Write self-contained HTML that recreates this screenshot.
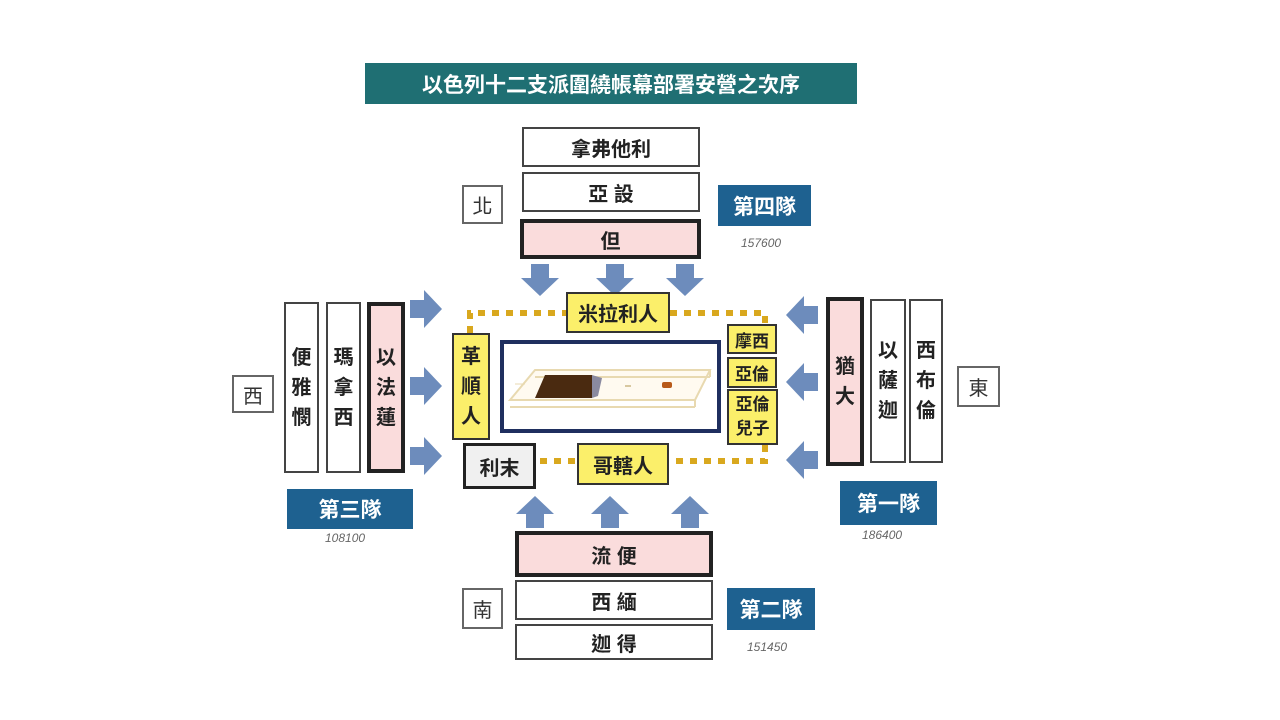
<!DOCTYPE html>
<html><head><meta charset="utf-8"><style>
body{margin:0;width:1280px;height:720px;background:#fff;position:relative;overflow:hidden;font-family:"Liberation Sans","Noto Sans CJK TC",sans-serif;}
.b{position:absolute;box-sizing:border-box;border:2px solid #444;background:#fff;display:flex;align-items:center;justify-content:center;font-weight:bold;font-size:20px;color:#222;}
.p{background:#fadcdc;border:4px solid #222;}
.v{flex-direction:column;line-height:30px;}
.y{background:#fbef6a;border:2px solid #333;}
.t{position:absolute;background:#1e6190;color:#fff;font-weight:bold;font-size:21px;display:flex;align-items:center;justify-content:center;}
.n{position:absolute;font-style:italic;color:#666;font-size:12px;}
.d{position:absolute;box-sizing:border-box;border:2px solid #666;background:#fff;font-size:20px;display:flex;align-items:center;justify-content:center;color:#333;}
</style></head><body>
<div style="position:absolute;left:365px;top:63px;width:492px;height:41px;background:#1f6f73;color:#fff;font-weight:bold;font-size:21px;display:flex;align-items:center;justify-content:center;">以色列十二支派圍繞帳幕部署安營之次序</div>

<svg width="1280" height="720" style="position:absolute;left:0;top:0">
<g fill="#6d8cbc">
<!-- down -->
<path d="M531 264h18v14h10l-19 18l-19-18h10z"/>
<path d="M606 264h18v14h10l-19 18l-19-18h10z"/>
<path d="M676 264h18v14h10l-19 18l-19-18h10z"/>
<!-- up -->
<path d="M526 528h18v-14h10l-19-18l-19 18h10z"/>
<path d="M601 528h18v-14h10l-19-18l-19 18h10z"/>
<path d="M681 528h18v-14h10l-19-18l-19 18h10z"/>
<!-- right -->
<path d="M410 309v18h14v10l18-19l-18-19v10z" transform="translate(0,-9)"/>
<path d="M410 386v18h14v10l18-19l-18-19v10z" transform="translate(0,-9)"/>
<path d="M410 456v18h14v10l18-19l-18-19v10z" transform="translate(0,-9)"/>
<!-- left -->
<path d="M818 306v18h-14v10l-18-19l18-19v10z"/>
<path d="M818 373v18h-14v10l-18-19l18-19v10z"/>
<path d="M818 451v18h-14v10l-18-19l18-19v10z"/>
</g>
<g stroke="#d9a81e" stroke-width="6" stroke-dasharray="7,7" fill="none">
<path d="M470 333V313H566"/>
<path d="M670 313H765V326"/>
<path d="M765 445V461H672"/>
<path d="M575 461H537"/>
</g>
<rect x="502" y="342" width="217" height="89" fill="#fff" stroke="#1f2f5f" stroke-width="4"/>
<g stroke="#e8d9b0" stroke-width="2" fill="none">
<path d="M535 370H710L695 400H510Z" fill="#fffaf0"/>
<path d="M535 377H710M510 407H695M695 400v7M710 370v7"/>
</g>
<path d="M515 384h10" stroke="#e8d9b0"/>
<polygon points="545,375 592,375 597,383 592,398 535,398" fill="#4a2a10"/>
<polygon points="592,375 602,378 598,396 592,398" fill="#8a8aa0"/>
<rect x="662" y="382" width="10" height="6" rx="2" fill="#b85a1a"/>
<rect x="625" y="385" width="6" height="2" fill="#d8c8a0"/>
</svg>

<div class="b" style="left:522px;top:127px;width:178px;height:40px">拿弗他利</div>
<div class="b" style="left:522px;top:172px;width:178px;height:40px">亞&nbsp;設</div>
<div class="b p" style="left:520px;top:219px;width:181px;height:40px">但</div>
<div class="d" style="left:462px;top:185px;width:41px;height:39px">北</div>
<div class="t" style="left:718px;top:185px;width:93px;height:41px">第四隊</div>
<div class="n" style="left:741px;top:236px">157600</div>

<div class="d" style="left:232px;top:375px;width:42px;height:38px">西</div>
<div class="b v" style="left:284px;top:302px;width:35px;height:171px">便<br>雅<br>憫</div>
<div class="b v" style="left:326px;top:302px;width:35px;height:171px">瑪<br>拿<br>西</div>
<div class="b v p" style="left:367px;top:302px;width:38px;height:171px">以<br>法<br>蓮</div>
<div class="t" style="left:287px;top:489px;width:126px;height:40px">第三隊</div>
<div class="n" style="left:325px;top:531px">108100</div>

<div class="b v p" style="left:826px;top:297px;width:38px;height:169px">猶<br>大</div>
<div class="b v" style="left:870px;top:299px;width:36px;height:164px">以<br>薩<br>迦</div>
<div class="b v" style="left:909px;top:299px;width:34px;height:164px">西<br>布<br>倫</div>
<div class="d" style="left:957px;top:366px;width:43px;height:41px">東</div>
<div class="t" style="left:840px;top:481px;width:97px;height:44px">第一隊</div>
<div class="n" style="left:862px;top:528px">186400</div>

<div class="b y" style="left:566px;top:292px;width:104px;height:41px">米拉利人</div>
<div class="b y v" style="left:452px;top:333px;width:38px;height:107px">革<br>順<br>人</div>
<div class="b y" style="left:727px;top:324px;width:50px;height:30px;font-size:17px">摩西</div>
<div class="b y" style="left:727px;top:357px;width:50px;height:31px;font-size:17px">亞倫</div>
<div class="b y v" style="left:727px;top:389px;width:51px;height:56px;font-size:17px;line-height:24px">亞倫<br>兒子</div>
<div class="b" style="left:463px;top:443px;width:73px;height:46px;background:#f0f0f0;border:3px solid #222">利末</div>
<div class="b y" style="left:577px;top:443px;width:92px;height:42px">哥轄人</div>

<div class="b p" style="left:515px;top:531px;width:198px;height:46px">流&nbsp;便</div>
<div class="b" style="left:515px;top:580px;width:198px;height:40px">西&nbsp;緬</div>
<div class="b" style="left:515px;top:624px;width:198px;height:36px">迦&nbsp;得</div>
<div class="d" style="left:462px;top:588px;width:41px;height:41px">南</div>
<div class="t" style="left:727px;top:588px;width:88px;height:42px">第二隊</div>
<div class="n" style="left:747px;top:640px">151450</div>
</body></html>
